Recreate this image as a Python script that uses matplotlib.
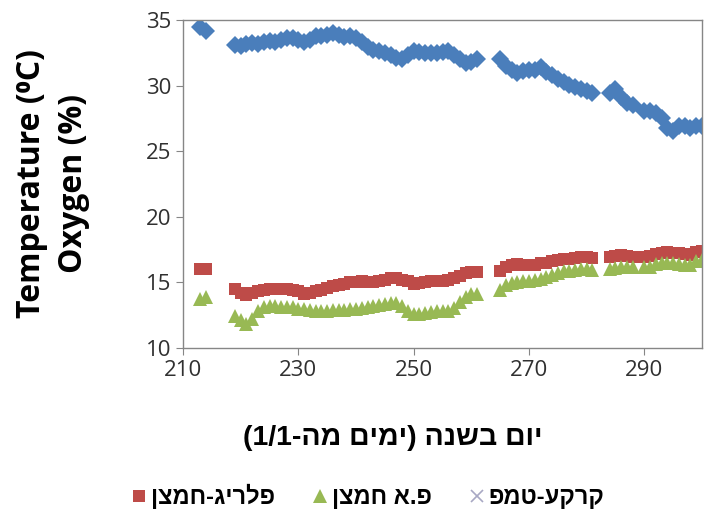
import matplotlib
matplotlib.use('Agg')
import matplotlib.pyplot as plt

# day of year (days from 1/1)
days = [213, 214,
        219, 220, 221, 222, 223, 224, 225, 226, 227, 228, 229, 230, 231, 232, 233,
        234, 235, 236, 237, 238, 239, 240, 241, 242, 243, 244, 245, 246, 247, 248,
        249, 250, 251, 252, 253, 254, 255, 256, 257, 258, 259, 260, 261,
        265, 266, 267, 268, 269, 270, 271, 272, 273, 274, 275, 276, 277, 278, 279, 280, 281,
        284, 285, 286, 287, 288,
        290, 291, 292, 293, 294, 295, 296, 297, 298, 299, 300]

# temperature (blue diamonds)
temp = [34.5, 34.2,
        33.1, 33.05, 33.2, 33.25, 33.2, 33.35, 33.4, 33.35, 33.5, 33.6, 33.6, 33.5, 33.35, 33.5, 33.75,
        33.8, 33.85, 34.0, 33.85, 33.7, 33.75, 33.6, 33.3, 32.95, 32.75, 32.65, 32.5, 32.3, 32.1, 32.0,
        32.3, 32.65, 32.55, 32.5, 32.45, 32.5, 32.55, 32.6, 32.35, 32.0, 31.7, 31.8, 32.0,
        32.0, 31.5, 31.2, 30.95, 31.15, 31.2, 31.2, 31.4, 31.05, 30.8, 30.5, 30.25, 30.05, 29.9, 29.75, 29.6, 29.4,
        29.4, 29.75, 29.1, 28.7, 28.5,
        28.1, 28.1, 27.9, 27.5, 26.8, 26.5, 26.9, 26.9, 26.8, 26.9, 26.9]

# oxygen, red squares
oxy_red = [16.0, 16.0,
           14.5, 14.2, 14.0, 14.2, 14.35, 14.45, 14.5, 14.5, 14.5, 14.5, 14.4, 14.3, 14.1, 14.2, 14.3,
           14.45, 14.6, 14.75, 14.8, 14.9, 15.0, 15.05, 15.1, 15.05, 15.0, 15.1, 15.2, 15.35, 15.3, 15.2,
           15.1, 14.9, 14.95, 15.0, 15.1, 15.1, 15.1, 15.2, 15.3, 15.5, 15.7, 15.75, 15.8,
           15.9, 16.2, 16.35, 16.4, 16.35, 16.35, 16.35, 16.45, 16.5, 16.6, 16.7, 16.75, 16.8, 16.85, 16.9, 16.9, 16.85,
           16.9, 17.0, 17.05, 17.0, 16.95,
           16.95, 17.0, 17.15, 17.2, 17.3, 17.25, 17.2, 17.15, 17.1, 17.3, 17.4]

# oxygen, green triangles
oxy_green = [13.7, 13.85,
             12.45, 12.1, 11.8, 12.2, 12.8, 13.15, 13.2, 13.2, 13.1, 13.1, 13.1, 13.0, 12.95, 12.9, 12.85,
             12.85, 12.85, 12.9, 12.9, 12.9, 12.95, 13.0, 13.05, 13.1, 13.2, 13.25, 13.35, 13.4, 13.45, 13.2,
             12.8, 12.6, 12.55, 12.65, 12.75, 12.8, 12.85, 12.85, 13.05, 13.5, 13.9, 14.1, 14.1,
             14.4, 14.8, 14.95, 15.0, 15.1, 15.1, 15.15, 15.25, 15.4, 15.55, 15.7, 15.85, 15.9, 15.95, 16.0, 16.0, 15.95,
             16.0, 16.1, 16.15, 16.2, 16.2,
             16.15, 16.2, 16.4, 16.5, 16.5, 16.5, 16.4, 16.3, 16.3, 16.6, 16.7]

# soil temp series: shown in legend only, no points in view
soil_days = []
soil_temp = []

x_ticks = [210, 230, 250, 270, 290]
y_ticks = [10, 15, 20, 25, 30, 35]

xlabel_he = 'יום בשנה (ימים מה-1/1)'
label_red = 'פלריג-חמצן'
label_green = 'פ.א חמצן'
label_soil = 'קרקע-טמפ'


def rtl(s):
    # matplotlib has no bidi: reverse to visual order and mirror brackets
    out = s[::-1]
    return out.translate(str.maketrans('()', ')('))


fig = plt.figure(figsize=(7.08, 5.2), dpi=100)
ax = fig.add_axes([0.2585, 0.331, 0.733, 0.6305])

ax.plot(days, temp, 'D', color='#4a7ebb', ms=9.5, mew=0)
h_red, = ax.plot(days, oxy_red, 's', color='#be4b48', ms=9, mew=0, label=rtl(label_red))
h_green, = ax.plot(days, oxy_green, '^', color='#98b954', ms=10, mew=0, label=rtl(label_green))
h_soil, = ax.plot(soil_days, soil_temp, 'x', color='#a8a8c4', ms=9, mew=1.2, label=rtl(label_soil))

ax.set_xlim(210, 300)
ax.set_ylim(10, 35)
ax.set_xticks(x_ticks)
ax.set_yticks(y_ticks)
ax.tick_params(direction='out', length=5, color='#868686', labelsize=16, labelcolor='#303030')
for lab in ax.get_xticklabels() + ax.get_yticklabels():
    lab.set_family(['Open Sans', 'DejaVu Sans'])
for sp in ax.spines.values():
    sp.set_color('#868686')
    sp.set_linewidth(1.0)

ax.set_ylabel('Temperature (⁰C)\nOxygen (%)', fontsize=23, fontweight='bold',
              family=['Open Sans', 'DejaVu Sans'], linespacing=1.35)
ax.yaxis.set_label_coords(-0.179, 0.5)
ax.set_xlabel(rtl(xlabel_he), fontsize=20.5, fontweight='bold',
              family=['Liberation Sans', 'DejaVu Sans'])
ax.xaxis.set_label_coords(0.404, -0.235)

leg = fig.legend(handles=[h_red, h_green, h_soil], loc='center', ncol=3,
                 bbox_to_anchor=(0.52, 0.045), frameon=False, handlelength=0.6,
                 handletextpad=0.2, columnspacing=1.6,
                 prop={'family': ['Liberation Sans', 'DejaVu Sans'], 'weight': 'bold', 'size': 17})

fig.savefig('out.png', dpi=100)
